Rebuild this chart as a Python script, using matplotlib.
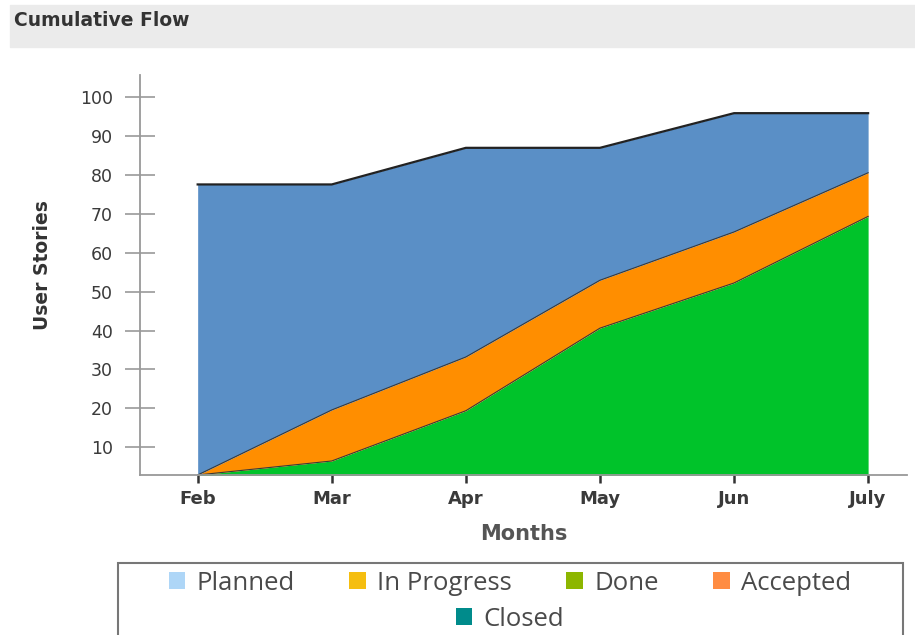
import matplotlib.pyplot as plt
from matplotlib.patches import Rectangle, Patch

# data (cumulative tops of each band)
months = ["Feb", "Mar", "Apr", "May", "Jun", "July"]
total = [77.5, 77.5, 86.9, 86.9, 95.8, 95.8]
orange_top = [2.9, 19.6, 33.2, 52.9, 65.3, 80.5]
green_top = [2.9, 6.5, 19.4, 40.6, 52.2, 69.3]
y_ticks = [10, 20, 30, 40, 50, 60, 70, 80, 90, 100]

legend_names = ["Planned", "In Progress", "Done", "Accepted", "Closed"]
legend_colors = ["#AED6F7", "#F5BE10", "#8DB600", "#FF8C42", "#008B8B"]

BLUE = "#5A8FC6"
ORANGE = "#FF8E00"
GREEN = "#00C32A"
EDGE = "#3a3a3a"

fig = plt.figure(figsize=(9.15, 6.35), dpi=100)

# title bar
fig.patches.append(Rectangle((10 / 915, 1 - 47 / 635), 905 / 915, 42 / 635,
                             transform=fig.transFigure, color="#EBEBEB", zorder=0))
fig.text(14 / 915, 1 - 21 / 635, "Cumulative Flow", fontsize=13.5, fontweight="bold",
         color="#333333", va="center", ha="left")

ax = fig.add_axes([140 / 915, 1 - 475 / 635, 767 / 915, 400 / 635])
x = list(range(len(months)))

ax.fill_between(x, 0, green_top, color=GREEN, lw=0)
ax.fill_between(x, green_top, orange_top, color=ORANGE, lw=0)
ax.fill_between(x, orange_top, total, color=BLUE, lw=0)
ax.plot(x, green_top, color=EDGE, lw=0.8)
ax.plot(x, orange_top, color=EDGE, lw=0.8)
ax.plot(x, total, color="#222222", lw=1.6)

ax.set_xlim(-0.43, 5.29)
ax.set_ylim(2.9, 105.6)
ax.set_xticks(x)
ax.set_xticklabels(months, fontsize=13, fontweight="bold", color="#3a3a3a")
ax.set_yticks(y_ticks)
ax.set_yticklabels([str(v) for v in y_ticks], fontsize=12.5, color="#3a3a3a")

for s in ["top", "right"]:
    ax.spines[s].set_visible(False)
ax.spines["left"].set_color("#999999")
ax.spines["bottom"].set_color("#999999")
ax.spines["left"].set_linewidth(1.3)
ax.spines["bottom"].set_linewidth(1.3)

ax.tick_params(axis="y", direction="inout", length=21, width=1.2, color="#999999", pad=9)
ax.tick_params(axis="x", direction="out", length=6, width=1.8, color="#333333", pad=5)

ax.set_xlabel("Months", fontsize=15, fontweight="bold", color="#555555", labelpad=11)
ax.set_ylabel("User Stories", fontsize=13.5, fontweight="bold", color="#333333")
ax.yaxis.set_label_coords(-0.115, 0.525)

# legend box (cut by the bottom edge like the reference)
fig.patches.append(Rectangle((118 / 915, -10 / 635), 785 / 915, 82 / 635,
                             transform=fig.transFigure, facecolor="white",
                             edgecolor="#777777", lw=1.5, zorder=1))
handles = [Patch(facecolor=c, edgecolor="none") for c in legend_colors]
leg1 = fig.legend(handles[:4], legend_names[:4], loc="center", ncol=4,
                  bbox_to_anchor=(510 / 915, 1 - 583 / 635), frameon=False,
                  prop={"family": "Open Sans", "size": 18.5}, labelcolor="#4a4a4a",
                  handlelength=0.65, handleheight=0.65, handletextpad=0.45, columnspacing=2.1)
leg2 = fig.legend(handles[4:], legend_names[4:], loc="center", ncol=1,
                  bbox_to_anchor=(510 / 915, 1 - 619 / 635), frameon=False,
                  prop={"family": "Open Sans", "size": 18.5}, labelcolor="#4a4a4a",
                  handlelength=0.65, handleheight=0.65, handletextpad=0.45)
leg1.set_zorder(3)
leg2.set_zorder(3)

fig.savefig("out.png", dpi=100)
